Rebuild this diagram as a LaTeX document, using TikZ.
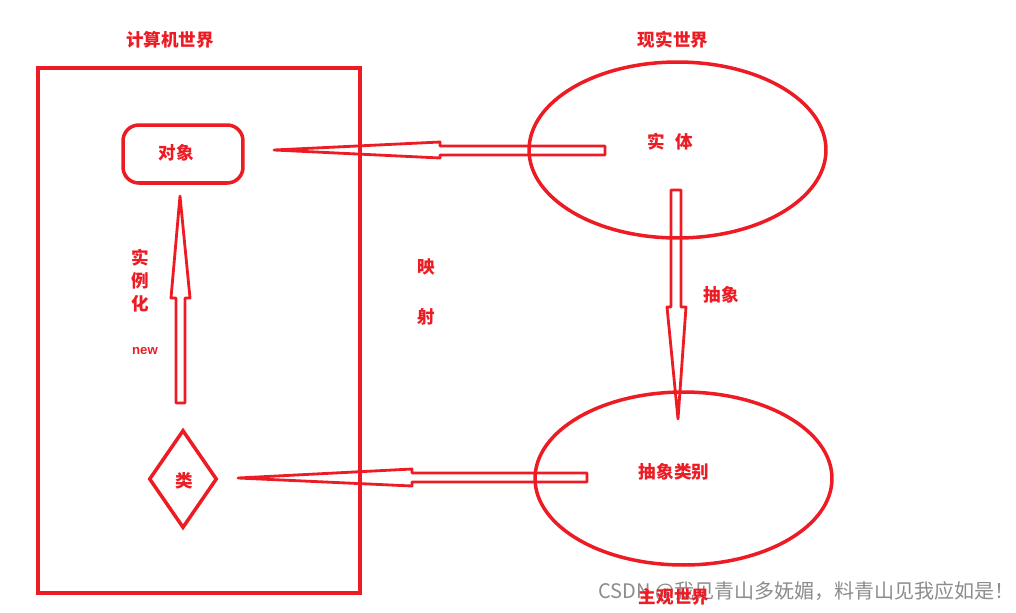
\documentclass[tikz,border=0pt]{standalone}
\usepackage{fontspec}
\setmainfont{Liberation Sans}
\newfontfamily\cjk{Noto Sans CJK SC}
\usetikzlibrary{shapes.geometric}
\definecolor{pred}{RGB}{237,28,36}
\begin{document}
\begin{tikzpicture}[x=0.02cm,y=-0.02cm,
  lbl/.style={text=pred,font=\cjk\bfseries\fontsize{10}{12}\selectfont,inner sep=0},
  shp/.style={draw=pred,line width=2pt},
  harrow/.style={draw=pred,line width=1.6pt,line join=round}]
\useasboundingbox (0,0) rectangle (1016,612);
% computer world frame
\node[shp,minimum width=6.44cm,minimum height=10.5cm,inner sep=0] (frame) at (199,330.5) {};
\node[lbl] (tcw) at (170,40) {计算机世界};
\node[lbl] (trw) at (673,40) {现实世界};
% objects
\node[shp,rounded corners=9pt,minimum width=2.4cm,minimum height=1.16cm,inner sep=0] (obj) at (183,154) {};
\node[lbl] (objt) at (176,153) {对象};
\node[shp,ellipse,minimum width=5.94cm,minimum height=3.52cm,inner sep=0] (ent) at (677.5,150) {};
\node[lbl] (entt) at (670,142) {实\hspace{0.6em}体};
\node[shp,ellipse,minimum width=5.94cm,minimum height=3.46cm,inner sep=0] (abs) at (683.5,478.5) {};
\node[lbl] (abst) at (674,472) {抽象类别};
\node[shp,diamond,minimum width=1.36cm,minimum height=1.96cm,inner sep=0] (cls) at (183,479) {};
\node[lbl] (clst) at (184,481) {类};
% labels
\node[lbl] (m1) at (426,267) {映};
\node[lbl] (m2) at (426,317) {射};
\node[lbl] (s1) at (140,258) {实};
\node[lbl] (s2) at (140,281) {例};
\node[lbl] (s3) at (140,304) {化};
\node[lbl,font=\bfseries\fontsize{7.5}{9}\selectfont] (nw) at (145,351) {new};
\node[lbl] (ab) at (721,295) {抽象};
% arrows (hollow)
\draw[harrow] (605,146) -- (440,146) -- (440,142) -- (274,150) -- (440,158) -- (440,155) -- (605,155) -- cycle;
\draw[harrow] (176,403) -- (176,298) -- (171,298) -- (180,196) -- (190,298) -- (185,298) -- (185,403) -- cycle;
\draw[harrow] (671,190) -- (671,307) -- (667,307) -- (678,419) -- (686,307) -- (681,307) -- (681,190) -- cycle;
\draw[harrow] (587,473) -- (412,473) -- (412,469) -- (238,478) -- (412,486) -- (412,482) -- (587,482) -- cycle;
% bottom
\node[text=black!45,font=\cjk\fontsize{11.4}{13}\selectfont,inner sep=0,anchor=west] (wm) at (598,592) {CSDN @我见青山多妩媚，料青山见我应如是！};
\node[lbl,font=\cjk\bfseries\fontsize{10}{12}\selectfont] (sub) at (674,597) {主观世界};
\end{tikzpicture}
\end{document}
